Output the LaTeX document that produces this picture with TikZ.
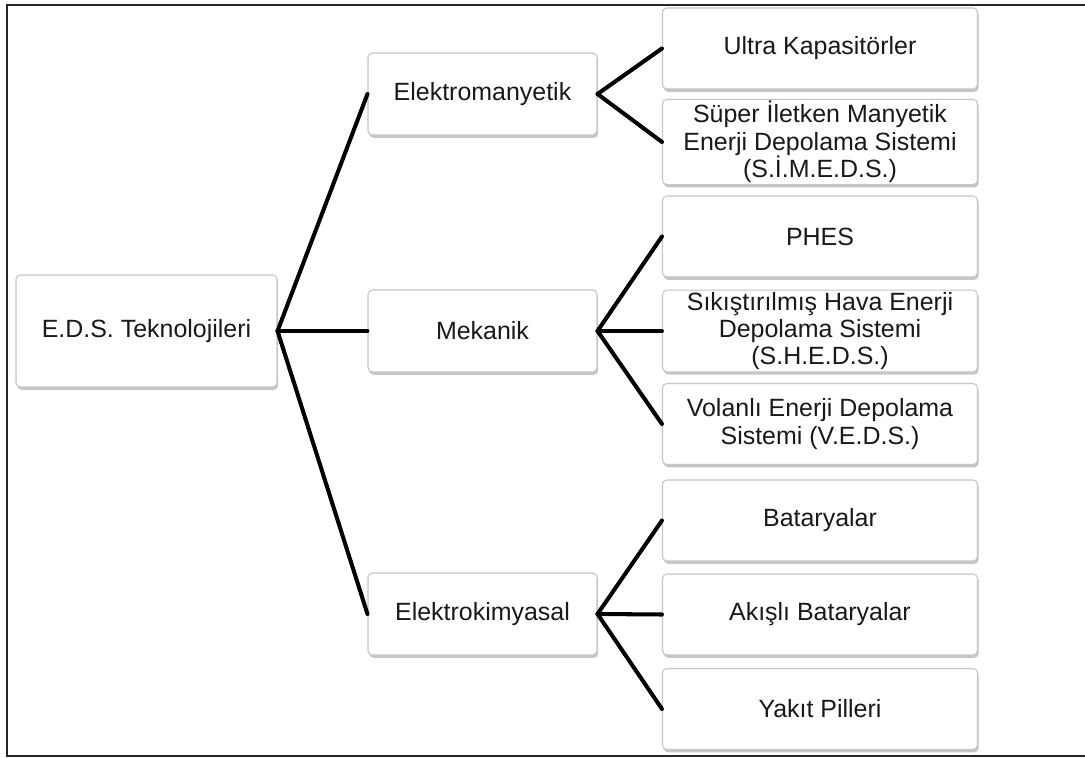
\documentclass[tikz,border=0pt]{standalone}
\usepackage{fontspec}
\setmainfont{Liberation Sans}
\usetikzlibrary{positioning, shadows}

\begin{document}
\begin{tikzpicture}[
    box/.style={draw=gray!45, line width=0.6pt, rounded corners=2.5pt, fill=white,
                drop shadow={shadow xshift=0.7pt, shadow yshift=-1.6pt, opacity=0.45},
                align=center, inner sep=1pt, text=black!90,
                font=\fontsize{14.2}{15.6}\selectfont},
    rootbox/.style={box, minimum width=5.22cm, minimum height=2.24cm},
    midbox/.style={box, minimum width=4.58cm, minimum height=1.64cm},
    leafbox/.style={box, minimum width=6.3cm, minimum height=1.62cm},
    link/.style={line width=2.3pt, black, line cap=round, line join=round}]
  \useasboundingbox (0,0) rectangle (21.7,-15.16);
  % frame
  \draw[line width=1.4pt, black!85] (21.7,-0.1) -- (0.14,-0.1) -- (0.14,-15.12) -- (21.7,-15.12);

  % root and levels
  \node[rootbox] (eds)  at (2.93,-6.62)  {E.D.S. Teknolojileri};
  \node[midbox]  (emag) at (9.65,-1.88)  {Elektromanyetik};
  \node[midbox]  (mek)  at (9.65,-6.62)  {Mekanik};
  \node[midbox]  (ekim) at (9.65,-12.28) {Elektrokimyasal};

  \node[leafbox] (ultra)  at (16.4,-0.97)  {Ultra Kapasitörler};
  \node[leafbox] (simeds) at (16.4,-2.84)  {Süper İletken Manyetik\\Enerji Depolama Sistemi\\(S.İ.M.E.D.S.)};
  \node[leafbox] (phes)   at (16.4,-4.73)  {PHES};
  \node[leafbox] (sheds)  at (16.4,-6.62)  {Sıkıştırılmış Hava Enerji\\Depolama Sistemi\\(S.H.E.D.S.)};
  \node[leafbox] (veds)   at (16.4,-8.48)  {Volanlı Enerji Depolama\\Sistemi (V.E.D.S.)};
  \node[leafbox] (bat)    at (16.4,-10.41) {Bataryalar};
  \node[leafbox] (akis)   at (16.4,-12.29) {Akışlı Bataryalar};
  \node[leafbox] (yakit)  at (16.4,-14.18) {Yakıt Pilleri};

  % connectors
  \foreach \m in {emag, mek, ekim}
    \draw[link] (eds.east) -- (\m.west);
  \foreach \l in {ultra, simeds}
    \draw[link] (emag.east) -- (\l.west);
  \foreach \l in {phes, sheds, veds}
    \draw[link] (mek.east) -- (\l.west);
  \foreach \l in {bat, akis, yakit}
    \draw[link] (ekim.east) -- (\l.west);
\end{tikzpicture}
\end{document}
